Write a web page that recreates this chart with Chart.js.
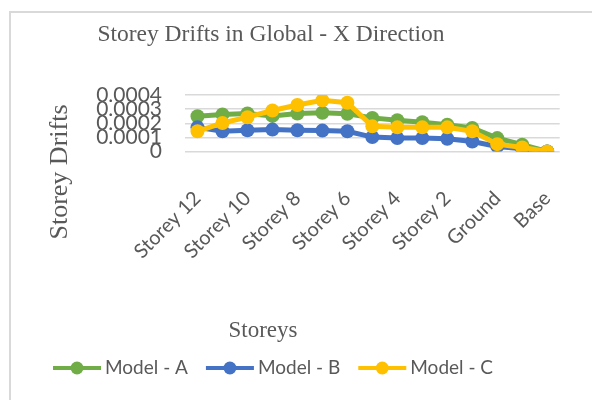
<!DOCTYPE html>
<html>
<head>
<meta charset="utf-8">
<script src="https://cdn.jsdelivr.net/npm/chart.js@4.4.1/dist/chart.umd.min.js"></script>
<style>
  html, body { margin: 0; padding: 0; background: #fff; overflow: hidden; }
  #frame { position: absolute; left: 9px; top: 11px; width: 600px; height: 400px;
           border-left: 2px solid #d9d9d9; border-top: 2px solid #d9d9d9; }
  #chart { position: absolute; left: 0; top: 0; }
</style>
</head>
<body>
<div id="frame"></div>
<canvas id="chart" width="592" height="400"></canvas>
<script>
// Storey labels, top to bottom
const storeys = ['Storey 12', 'Storey 11', 'Storey 10', 'Storey 9', 'Storey 8', 'Storey 7', 'Storey 6',
  'Storey 5', 'Storey 4', 'Storey 3', 'Storey 2', 'Storey 1', 'Ground', 'Plinth', 'Base'];

// Drift values
const modelA = [0.000250, 0.000262, 0.000269, 0.000252, 0.000269, 0.000274, 0.000267,
  0.000238, 0.000221, 0.000207, 0.000190, 0.000167, 0.000095, 0.000048, 0];
const modelB = [0.000171, 0.000143, 0.000150, 0.000155, 0.000150, 0.000148, 0.000143,
  0.000102, 0.000095, 0.000095, 0.000090, 0.000071, 0.000036, 0.000019, 0];
const modelC = [0.000143, 0.000202, 0.000243, 0.000290, 0.000329, 0.000362, 0.000345,
  0.000178, 0.000171, 0.000171, 0.000171, 0.000143, 0.000052, 0.000029, 0];

const yTicks = [0, 0.0001, 0.0002, 0.0003, 0.0004];

const chartTitle = 'Storey Drifts in Global - X Direction';
const xTitle = 'Storeys';
const yTitle = 'Storey Drifts';

const textGrey = '#595959';
const serif = '"Liberation Serif", "Times New Roman", serif';
const sans = 'Lato, "Liberation Sans", Arial, sans-serif';

function series(label, data, color, order) {
  return {
    label: label,
    data: data,
    borderColor: color,
    backgroundColor: color,
    borderWidth: 5,
    pointRadius: 7,
    pointBorderWidth: 0,
    pointBackgroundColor: color,
    tension: 0,
    order: order
  };
}

// titles and legend are drawn here so they sit where the original has them
const extraText = {
  id: 'extraText',
  afterDraw(chart) {
    const ctx = chart.ctx;
    ctx.save();
    ctx.fillStyle = textGrey;

    ctx.font = '23.5px ' + serif;
    ctx.textAlign = 'center';
    ctx.textBaseline = 'alphabetic';
    ctx.fillText(chartTitle, 271, 41);
    ctx.font = '23px ' + serif;
    ctx.fillText(xTitle, 263, 337);

    ctx.save();
    ctx.translate(67, 172);
    ctx.rotate(-Math.PI / 2);
    ctx.font = '26px ' + serif;
    ctx.fillText(yTitle, 0, 0);
    ctx.restore();

    // legend: line with a dot, then the name
    let x = 53;
    const y = 368;
    ctx.font = '19px ' + sans;
    ctx.textAlign = 'left';
    ctx.textBaseline = 'middle';
    chart.data.datasets.forEach(ds => {
      ctx.strokeStyle = ds.borderColor;
      ctx.lineWidth = 4;
      ctx.beginPath();
      ctx.moveTo(x, y);
      ctx.lineTo(x + 48, y);
      ctx.stroke();
      ctx.fillStyle = ds.borderColor;
      ctx.beginPath();
      ctx.arc(x + 24, y, 6.5, 0, Math.PI * 2);
      ctx.fill();
      ctx.fillStyle = textGrey;
      ctx.fillText(ds.label, x + 52, y);
      x += 52 + ctx.measureText(ds.label).width + 18;
    });
    ctx.restore();
  }
};

new Chart(document.getElementById('chart'), {
  type: 'line',
  data: {
    labels: storeys,
    datasets: [
      series('Model - A', modelA, '#70AD47', 3),
      series('Model - B', modelB, '#4472C4', 2),
      series('Model - C', modelC, '#FFC000', 1)
    ]
  },
  options: {
    responsive: false,
    animation: false,
    layout: { padding: { top: 95, right: 25, left: 0, bottom: 0 } },
    plugins: {
      legend: { display: false },
      title: { display: false },
      tooltip: { enabled: false }
    },
    scales: {
      x: {
        offset: true,
        grid: { display: false },
        border: { display: false },
        ticks: {
          autoSkip: false,
          minRotation: 45,
          maxRotation: 45,
          padding: 27,
          color: textGrey,
          font: { family: sans, size: 20 },
          callback: (v, i) => (i % 2 === 0 ? storeys[i] : '')
        },
        afterFit: s => { s.height = 248.5; }
      },
      y: {
        min: 0,
        max: 0.0004,
        grid: { color: '#d9d9d9', lineWidth: 1.5, drawTicks: false },
        border: { display: false },
        afterBuildTicks: s => { s.ticks = yTicks.map(v => ({ value: v })); },
        ticks: {
          autoSkip: false,
          padding: 23,
          color: textGrey,
          font: { family: sans, size: 21 },
          callback: v => (v === 0 ? '0' : v.toFixed(4))
        },
        afterFit: s => { s.width = 185; }
      }
    }
  },
  plugins: [extraText]
});
</script>
</body>
</html>
